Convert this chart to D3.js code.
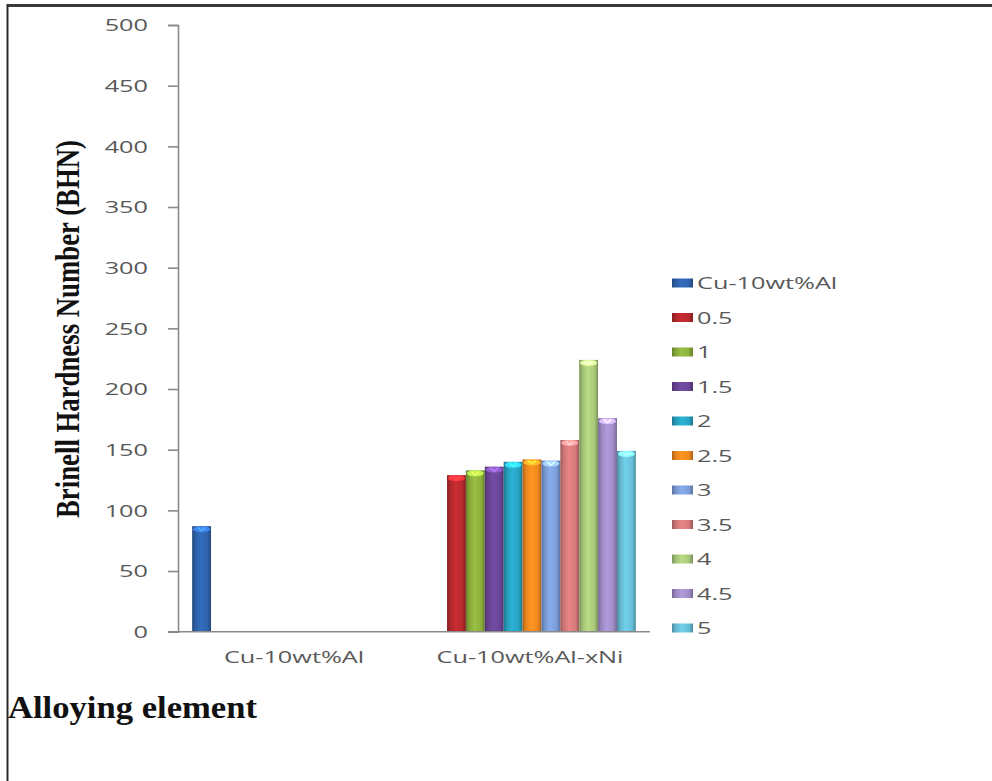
<!DOCTYPE html>
<html>
<head>
<meta charset="utf-8">
<script src="https://cdn.jsdelivr.net/npm/d3@7"></script>
<style>
  html, body { margin: 0; padding: 0; background: #fff; }
  svg { display: block; }
</style>
</head>
<body>
<svg id="chart" width="992" height="781"></svg>
<script>
// Brinell hardness of the base alloy and of the nickel additions
const categories = ["Cu-10wt%Al", "Cu-10wt%Al-xNi"];
const seriesNames = ["Cu-10wt%Al", "0.5", "1", "1.5", "2", "2.5", "3", "3.5", "4", "4.5", "5"];
const baseAlloyValues = [87, null];
const nickelValues = [129, 133, 136, 140, 142, 141, 158, 224, 176, 149];
const yTicks = [0, 50, 100, 150, 200, 250, 300, 350, 400, 450, 500];
const seriesColors = ["#2f63ad", "#b8292e", "#8cb03d", "#6a4696", "#27a3c2", "#f2891f",
                      "#7c9dd9", "#d67a7b", "#a9c97a", "#a38ec9", "#68bfd8"];

// one value per (series, category); the base alloy only appears in the first group
const seriesValues = seriesNames.map((name, i) =>
  i === 0 ? baseAlloyValues : [null, nickelValues[i - 1]]);

const svg = d3.select("#chart");
const defs = svg.append("defs");

const axisColor = "#8a8a8a";
const textColor = "#595959";
const stretch = 1.58;   // wide rendering of the chart lettering

const y = d3.scaleLinear().domain([0, 500]).range([631.7, 25]);
const x0 = d3.scaleBand().domain(categories).range([178, 650]).padding(0);
const x1 = d3.scaleBand().domain(seriesNames).range([0, x0.bandwidth()])
  .paddingInner(0).paddingOuter(0.75);
const color = d3.scaleOrdinal().domain(seriesNames).range(seriesColors);

// cylinder-like shading for each series
seriesNames.forEach((name, i) => {
  const c = d3.color(seriesColors[i]);
  const g = defs.append("linearGradient").attr("id", "grad" + i)
    .attr("x1", "0%").attr("x2", "100%").attr("y1", "0%").attr("y2", "0%");
  g.append("stop").attr("offset", "0%").attr("stop-color", c.darker(0.9));
  g.append("stop").attr("offset", "18%").attr("stop-color", c.darker(0.15));
  g.append("stop").attr("offset", "45%").attr("stop-color", c.brighter(0.25));
  g.append("stop").attr("offset", "80%").attr("stop-color", c);
  g.append("stop").attr("offset", "100%").attr("stop-color", c.darker(0.9));
});

// outer frame lines
svg.append("line").attr("x1", 7).attr("x2", 992).attr("y1", 5.5).attr("y2", 5.5)
  .attr("stroke", "#3a3a3a").attr("stroke-width", 3);
svg.append("line").attr("x1", 7.5).attr("x2", 7.5).attr("y1", 4).attr("y2", 781)
  .attr("stroke", "#2a2a2a").attr("stroke-width", 2);

// value axis
const yAxis = svg.append("g").attr("transform", "translate(178,0)")
  .call(d3.axisLeft(y).tickValues(yTicks).tickSize(10).tickPadding(0).tickFormat(""));
yAxis.select(".domain").attr("stroke", axisColor).attr("stroke-width", 1.6);
yAxis.selectAll(".tick line").attr("stroke", axisColor).attr("stroke-width", 1.6);

svg.append("g").selectAll("text").data(yTicks).join("text")
  .attr("transform", d => `translate(148,${y(d)}) scale(${stretch},1)`)
  .attr("text-anchor", "end").attr("dominant-baseline", "central")
  .attr("font-family", "'Open Sans', sans-serif").attr("font-size", 16)
  .attr("fill", textColor).text(d => d);

// bars
const groups = svg.append("g").selectAll("g").data(seriesNames).join("g");
groups.each(function (name, si) {
  const g = d3.select(this);
  const pts = seriesValues[si].map((v, ci) => ({ v, cat: categories[ci] }))
    .filter(d => d.v !== null);
  const w = x1.bandwidth();
  const base = d3.color(seriesColors[si]);
  pts.forEach(d => {
    const bx = x0(d.cat) + x1(name);
    const top = y(d.v);
    g.append("rect").attr("x", bx).attr("y", top)
      .attr("width", w).attr("height", y(0) - top)
      .attr("fill", `url(#grad${si})`);
    // elliptical top cap
    g.append("ellipse").attr("cx", bx + w / 2).attr("cy", top + 3)
      .attr("rx", w / 2 - 1).attr("ry", 3)
      .attr("fill", base.brighter(0.9));
    g.append("path")
      .attr("d", `M${bx + w * 0.3},${top + 1.5} L${bx + w / 2},${top + 4.5} L${bx + w * 0.7},${top + 1.5}`)
      .attr("fill", "none").attr("stroke", base.brighter(1.6)).attr("stroke-width", 1.5);
  });
});

// category axis
svg.append("line").attr("x1", 168).attr("x2", 650).attr("y1", y(0)).attr("y2", y(0))
  .attr("stroke", axisColor).attr("stroke-width", 1.6);
svg.append("g").selectAll("text").data(categories).join("text")
  .attr("transform", d => `translate(${x0(d) + x0.bandwidth() / 2 - 2},663) scale(${stretch},1)`)
  .attr("text-anchor", "middle")
  .attr("font-family", "'Open Sans', sans-serif").attr("font-size", 16)
  .attr("fill", textColor).text(d => d);

// legend
const legend = svg.append("g").selectAll("g").data(seriesNames).join("g")
  .attr("transform", (d, i) => `translate(672,${283 + i * 34.5})`);
legend.append("rect").attr("x", 0).attr("y", -4.5).attr("width", 21).attr("height", 9)
  .attr("fill", (d, i) => `url(#grad${i})`);
legend.append("text")
  .attr("transform", `translate(25,0) scale(${stretch},1)`)
  .attr("dominant-baseline", "central")
  .attr("font-family", "'Open Sans', sans-serif").attr("font-size", 16)
  .attr("fill", textColor).text(d => d);

// axis titles
svg.append("text")
  .attr("transform", "translate(78.5,329) rotate(-90)")
  .attr("text-anchor", "middle")
  .attr("font-family", "'Liberation Serif', 'Times New Roman', serif")
  .attr("font-weight", "bold").attr("font-size", 33)
  .attr("textLength", 378).attr("lengthAdjust", "spacingAndGlyphs")
  .attr("fill", "#111").text("Brinell Hardness Number (BHN)");

svg.append("text")
  .attr("x", 8).attr("y", 718)
  .attr("font-family", "'Liberation Serif', 'Times New Roman', serif")
  .attr("font-weight", "bold").attr("font-size", 31)
  .attr("textLength", 249).attr("lengthAdjust", "spacingAndGlyphs")
  .attr("fill", "#111").text("Alloying element");
</script>
</body>
</html>
